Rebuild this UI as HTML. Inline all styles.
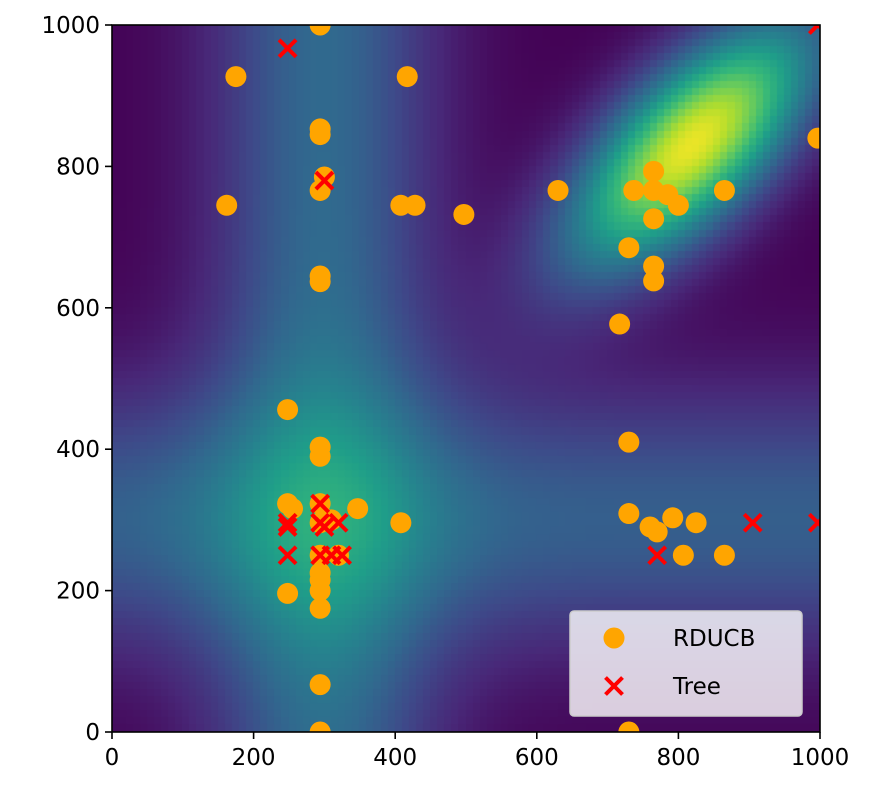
<!DOCTYPE html>
<html><head><meta charset="utf-8"><style>
body{margin:0;background:#fff;width:875px;height:796px;overflow:hidden;font-family:"DejaVu Sans","Liberation Sans",sans-serif}
#wrap{position:relative;width:875px;height:796px}
canvas{position:absolute;left:112px;top:25px}
svg{position:absolute;left:0;top:0}
</style></head><body>
<div id="wrap">
<canvas id="heat" width="708" height="707"></canvas>
<svg id="svg" width="875" height="796"><defs><clipPath id="pc"><rect x="112" y="25" width="708" height="707"/></clipPath></defs></svg>
</div>
<script>
const xTicks=[0,200,400,600,800,1000];
const yTicks=[0,200,400,600,800,1000];
const rducbX=[294,175,417,294,294,300,294,162,408,428,497,630,294,294,765,737,765,785,800,865,765,730,765,765,717,248,294,294,730,248,255,294,300,310,347,408,294,730,760,770,792,825,294,320,294,294,294,248,294,807,865,294,294,730,997];
const rducbY=[1000,927,927,853,845,785,766,745,745,745,732,766,645,637,793,766,766,760,745,766,726,685,659,638,577,456,403,390,410,323,316,323,302,300,316,296,296,309,290,283,303,296,250,250,225,215,200,196,175,250,250,67,0,0,840];
const treeX=[248,300,248,248,248,294,294,300,320,294,310,325,770,905,997,997];
const treeY=[967,780,296,290,250,323,296,290,296,250,250,250,250,296,296,1000];

const L=112,R=820,T=25,B=732;
const sx=v=>L+(v-0)/1000*(R-L);
const sy=v=>B-(v-0)/1000*(B-T);
const NS='http://www.w3.org/2000/svg';
const svg=document.getElementById('svg');
function mk(t,a,p){const e=document.createElementNS(NS,t);for(const k in a)e.setAttribute(k,a[k]);(p||svg).appendChild(e);return e;}

const vir=[[68,1,84],[72,40,120],[62,73,137],[49,104,142],[38,130,142],[31,158,137],[53,183,121],[109,205,89],[180,222,44],[253,231,37]];
function cmap(t){t=Math.max(0,Math.min(1,t))*(vir.length-1);const i=Math.min(vir.length-2,Math.floor(t)),f=t-i;return vir[i].map((c,k)=>Math.round(c+(vir[i+1][k]-c)*f));}
function field(x,y){
 const g=(d,s)=>Math.exp(-d*d/(2*s*s));
 let v=0.34*g(x-300,110)+0.3*g(y-300,130);
 const dx=x-820,dy=y-830,u=(dx+dy)/Math.SQRT2,w=(dx-dy)/Math.SQRT2;
 v+=0.97*g(u,160)*g(w,70);
 return v;
}
const cv=document.getElementById('heat'),ctx=cv.getContext('2d');
const N=100,cw=708/N,ch=707/N;
for(let i=0;i<N;i++)for(let j=0;j<N;j++){
 const x=(i+0.5)*10,y=1000-(j+0.5)*10;
 const c=cmap(field(x,y));
 ctx.fillStyle=`rgb(${c[0]},${c[1]},${c[2]})`;
 ctx.fillRect(Math.floor(i*cw),Math.floor(j*ch),Math.ceil(cw)+1,Math.ceil(ch)+1);
}

const pts=mk('g',{'clip-path':'url(#pc)'});


rducbX.forEach((x,i)=>{const c=mk('circle',{cx:sx(x),cy:sy(rducbY[i]),r:10.5,fill:'#ffa500'},pts);

});
treeX.forEach((x,i)=>{const cx=sx(x),cy=sy(treeY[i]),s=8.5;
const g=mk('path',{d:`M${cx-s},${cy-s}L${cx+s},${cy+s}M${cx-s},${cy+s}L${cx+s},${cy-s}`,stroke:'#ff0000','stroke-width':4,fill:'none'},pts);

});

const fr=mk('rect',{x:L,y:T,width:R-L,height:B-T,fill:'none',stroke:'#000','stroke-width':1.6});


xTicks.forEach(v=>{mk('line',{x1:sx(v),x2:sx(v),y1:B,y2:B+7,stroke:'#000','stroke-width':1.6});
const t=mk('text',{x:sx(v),y:B+33,'text-anchor':'middle','font-size':23,fill:'#000'});t.textContent=v;

});
yTicks.forEach(v=>{mk('line',{x1:L-7,x2:L,y1:sy(v),y2:sy(v),stroke:'#000','stroke-width':1.6});
const t=mk('text',{x:L-12,y:sy(v)+8,'text-anchor':'end','font-size':23,fill:'#000'});t.textContent=v;

});

const lg=mk('g',{});


mk('rect',{x:570,y:611,width:232,height:105,rx:4,fill:'rgba(255,255,255,0.8)',stroke:'#ccc','stroke-width':1.5},lg);
mk('circle',{cx:614,cy:638,r:10.5,fill:'#ffa500'},lg);
const s=8.5;mk('path',{d:`M${614-s},${686-s}L${614+s},${686+s}M${614-s},${686+s}L${614+s},${686-s}`,stroke:'#ff0000','stroke-width':4},lg);
const t1=mk('text',{x:673,y:646,'font-size':23,fill:'#000'},lg);t1.textContent='RDUCB';


const t2=mk('text',{x:673,y:694,'font-size':23,fill:'#000'},lg);t2.textContent='Tree';


</script>
</body></html>
